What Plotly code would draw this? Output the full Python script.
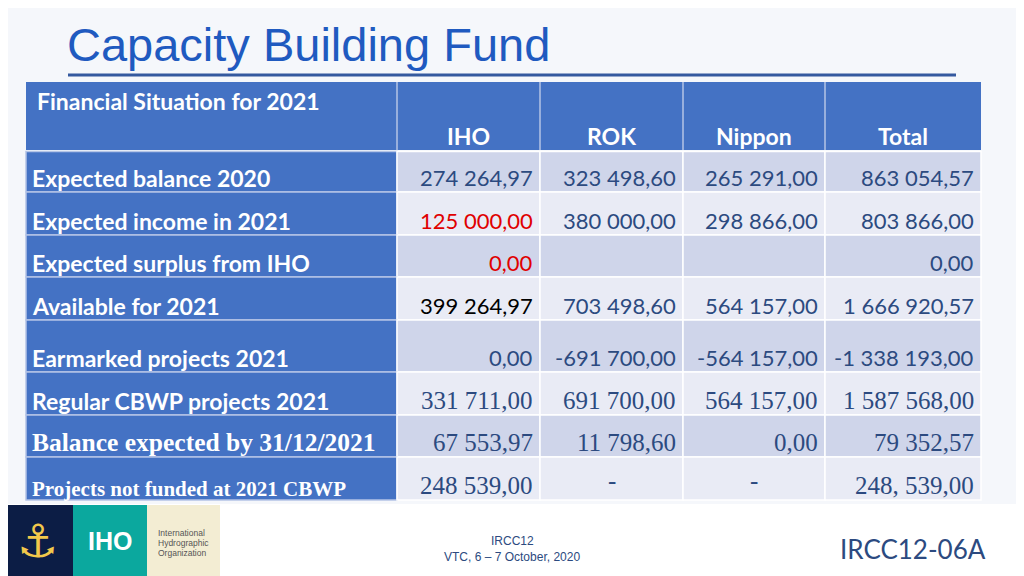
import plotly.graph_objects as go

# slide content
title = "Capacity Building Fund"
corner = "Financial Situation for 2021"
columns = ["IHO", "ROK", "Nippon", "Total"]
row_labels = [
    "Expected balance 2020",
    "Expected income in 2021",
    "Expected surplus from IHO",
    "Available for 2021",
    "Earmarked projects 2021",
    "Regular CBWP projects 2021",
    "Balance expected by 31/12/2021",
    "Projects not funded at 2021 CBWP",
]
iho = ["274 264,97", "125 000,00", "0,00", "399 264,97", "0,00", "331 711,00", "67 553,97", "248 539,00"]
rok = ["323 498,60", "380 000,00", "", "703 498,60", "-691 700,00", "691 700,00", "11 798,60", "-"]
nippon = ["265 291,00", "298 866,00", "", "564 157,00", "-564 157,00", "564 157,00", "0,00", "-"]
total = ["863 054,57", "803 866,00", "0,00", "1 666 920,57", "-1 338 193,00", "1 587 568,00", "79 352,57", "248, 539,00"]
footer_mid = ["IRCC12", "VTC, 6 \u2013 7 October, 2020"]
footer_right = "IRCC12-06A"
logo_lines = ["International", "Hydrographic", "Organization"]

# layout (pixel units of the slide)
col_edges = [26, 397, 540, 683, 825, 981]
header_top, header_bottom = 82, 150
row_edges = [151.5, 192, 235, 277, 320, 372, 415, 457, 500]

BLUE = "#4472C4"
DARK_CELL = "#CFD5EA"
LIGHT_CELL = "#E9EBF5"
NUM = "#2C4A80"
SANS = "Lato, Open Sans, sans-serif"
SERIF = "Liberation Serif, DejaVu Serif, serif"
BG = "#F5F7FB"

shapes = []
ann = []

# title + underline
ann.append(dict(x=65, y=44, text=title, xanchor="left", yanchor="middle", showarrow=False,
                font=dict(family="Liberation Sans, Arial", size=47, color="#1F5AC0")))
shapes.append(dict(type="line", x0=68, x1=956, y0=75, y1=75, line=dict(color="#34599F", width=3)))

# header row
shapes.append(dict(type="rect", x0=col_edges[0], x1=col_edges[-1], y0=header_top, y1=header_bottom,
                   fillcolor=BLUE, line=dict(width=0)))
for x in col_edges[1:-1]:
    shapes.append(dict(type="line", x0=x, x1=x, y0=header_top, y1=header_bottom,
                       line=dict(color="#B4C4E6", width=1.5)))
ann.append(dict(x=35, y=101, text="<b>" + corner + "</b>", xanchor="left", yanchor="middle", showarrow=False,
                font=dict(family=SANS, size=23, color="white")))
for i, c in enumerate(columns):
    cx = (col_edges[i + 1] + col_edges[i + 2]) / 2
    ann.append(dict(x=cx, y=136, text="<b>" + c + "</b>", xanchor="center", yanchor="middle", showarrow=False,
                    font=dict(family=SANS, size=23, color="white")))

# body
cols = [iho, rok, nippon, total]
label_fonts = [(SANS, 23)] * 6 + [(SERIF, 25.5), (SERIF, 21)]
value_fonts = [(SANS, 22)] * 5 + [(SERIF, 25)] * 3
iho_colors = [NUM, "#E00000", "#E00000", "#000000", NUM, NUM, NUM, NUM]

for r, label in enumerate(row_labels):
    y0, y1 = row_edges[r], row_edges[r + 1]
    fill = DARK_CELL if r % 2 == 0 else LIGHT_CELL
    shapes.append(dict(type="rect", x0=col_edges[0], x1=col_edges[1], y0=y0, y1=y1,
                       fillcolor=BLUE, line=dict(color="#B4C4E6", width=1.5)))
    for c in range(4):
        shapes.append(dict(type="rect", x0=col_edges[c + 1], x1=col_edges[c + 2], y0=y0, y1=y1,
                           fillcolor=fill, line=dict(color="white", width=1.5)))
    ty = y1 - 14.5
    lf, ls = label_fonts[r]
    ly = y1 - 11 if r == 7 else ty
    ann.append(dict(x=30, y=ly, text="<b>" + label + "</b>", xanchor="left", yanchor="middle", showarrow=False,
                    font=dict(family=lf, size=ls, color="white")))
    vf, vs = value_fonts[r]
    for c in range(4):
        v = cols[c][r]
        if not v:
            continue
        color = iho_colors[r] if c == 0 else NUM
        if v == "-":
            ann.append(dict(x=(col_edges[c + 1] + col_edges[c + 2]) / 2, y=y1 - 20, text=v, xanchor="center",
                            yanchor="middle", showarrow=False, font=dict(family=vf, size=vs, color=color)))
        else:
            ann.append(dict(x=col_edges[c + 2] - 5, y=ty, text=v, xanchor="right", yanchor="middle",
                            showarrow=False, font=dict(family=vf, size=vs, color=color)))

# footer band + logo
shapes.append(dict(type="rect", x0=0, x1=1040, y0=504, y1=590, fillcolor="#FFFFFF", line=dict(width=0)))
shapes.append(dict(type="rect", x0=0, x1=73, y0=505, y1=590, fillcolor="#0C1D45", line=dict(width=0)))
shapes.append(dict(type="rect", x0=73, x1=147, y0=505, y1=590, fillcolor="#0BA89E", line=dict(width=0)))
shapes.append(dict(type="rect", x0=147, x1=220, y0=505, y1=590, fillcolor="#F3EDD3", line=dict(width=0)))
ann.append(dict(x=37, y=541, text="\u2693", xanchor="center", yanchor="middle", showarrow=False,
                font=dict(family="DejaVu Sans", size=46, color="#F2C84B")))
ann.append(dict(x=110, y=541, text="<b>IHO</b>", xanchor="center", yanchor="middle", showarrow=False,
                font=dict(family="Liberation Sans, Arial", size=25, color="white")))
for i, t in enumerate(logo_lines):
    ann.append(dict(x=156, y=533 + i * 10, text=t, xanchor="left", yanchor="middle", showarrow=False,
                    font=dict(family="Liberation Sans Narrow, Liberation Sans", size=8.5, color="#555555")))
for i, t in enumerate(footer_mid):
    ann.append(dict(x=512, y=541 + i * 16, text=t, xanchor="center", yanchor="middle", showarrow=False,
                    font=dict(family="Liberation Sans Narrow, Liberation Sans", size=12, color="#2C4A80")))
ann.append(dict(x=913, y=549, text=footer_right, xanchor="center", yanchor="middle", showarrow=False,
                font=dict(family=SANS, size=26, color="#2C4A80")))

fig = go.Figure()
# the page body adds an 8px offset, so the axes are shifted by the same amount
fig.update_layout(
    width=1024, height=576,
    margin=dict(l=0, r=0, t=0, b=0),
    paper_bgcolor=BG, plot_bgcolor=BG,
    xaxis=dict(range=[8, 1032], visible=False, fixedrange=True),
    yaxis=dict(range=[584, 8], visible=False, fixedrange=True),
    shapes=shapes, annotations=ann, showlegend=False,
)
fig.write_html("out.html")
